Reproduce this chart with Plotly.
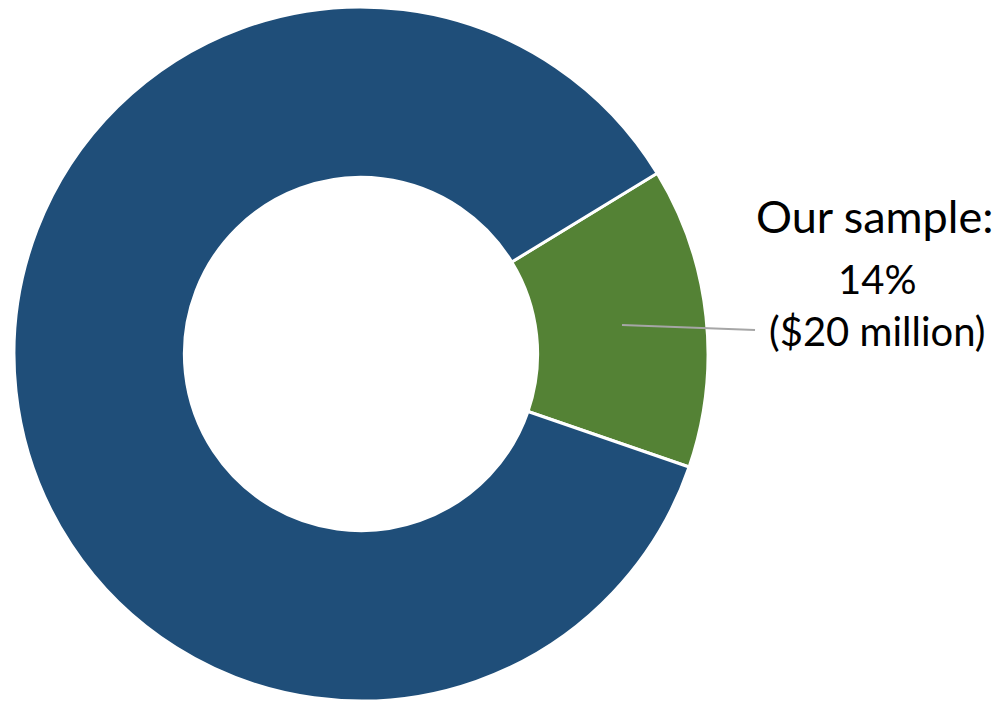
import plotly.graph_objects as go

categories = ["Other", "Our sample"]
shares = [86, 14]
colors = ["#1F4E79", "#548235"]
label_lines = ["Our sample:", "14%", "($20 million)"]

W, H = 1002, 701
fig = go.Figure()
fig.add_trace(go.Pie(
    labels=categories[::-1],
    values=shares[::-1],
    marker=dict(colors=colors[::-1], line=dict(color="white", width=3)),
    hole=0.509,
    sort=False,
    direction="clockwise",
    rotation=58.6,
    textinfo="none",
    hoverinfo="label+percent",
    showlegend=False,
    domain=dict(x=[14 / W, 708 / W], y=[0, 694 / H]),
))

font = "Lato, Open Sans, sans-serif"
fig.add_annotation(x=874.5 / W, y=1 - 216 / H, xref="paper", yref="paper",
                   xanchor="center", yanchor="middle",
                   text=label_lines[0], showarrow=False,
                   font=dict(family=font, size=45, color="black"))
fig.add_annotation(x=876.5 / W, y=1 - 305 / H, xref="paper", yref="paper",
                   xanchor="center", yanchor="middle",
                   text=label_lines[1] + "<br>" + label_lines[2], showarrow=False,
                   font=dict(family=font, size=40, color="black"))
fig.add_shape(type="line", xref="paper", yref="paper",
              x0=622 / W, y0=1 - 325 / H, x1=755 / W, y1=1 - 330 / H,
              line=dict(color="#A6A6A6", width=2))

fig.update_layout(width=W, height=H, margin=dict(l=0, r=0, t=0, b=0),
                  paper_bgcolor="white", plot_bgcolor="white")
fig.write_html("out.html")
